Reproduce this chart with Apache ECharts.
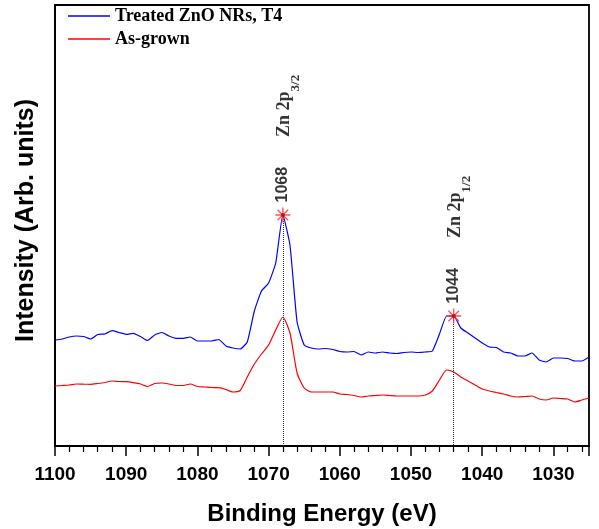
<!DOCTYPE html>
<html>
<head>
<meta charset="utf-8">
<script src="https://cdn.jsdelivr.net/npm/echarts@6/dist/echarts.min.js"></script>
<style>
  html, body { margin: 0; padding: 0; background: #fff; }
  #chart { width: 599px; height: 529px; }
</style>
</head>
<body>
<div id="chart"></div>
<script>
// binding energy, eV (axis runs high -> low)
const energy = [1100, 1099, 1098, 1097, 1096, 1095, 1094, 1093, 1092, 1091,
  1090, 1089, 1088, 1087, 1086, 1085, 1084, 1083, 1082, 1081,
  1080, 1079, 1078, 1077, 1076, 1075, 1074, 1073, 1072, 1071,
  1070, 1069, 1068, 1067, 1066, 1065, 1064, 1063, 1062, 1061,
  1060, 1059, 1058, 1057, 1056, 1055, 1054, 1053, 1052, 1051,
  1050, 1049, 1048, 1047, 1046, 1045, 1044, 1043, 1042, 1041,
  1040, 1039, 1038, 1037, 1036, 1035, 1034, 1033, 1032, 1031,
  1030, 1029, 1028, 1027, 1026, 1025]

// intensity, arb. units
const treatedT4 = [106, 107, 109, 110, 109.5, 107, 111.5, 112, 115.3, 113.5,
  111.7, 112.7, 109.5, 105.5, 111, 113.5, 110, 107.7, 107.7, 109,
  105, 105, 105, 106.5, 100, 98, 97, 104, 135, 155,
  163, 183, 231, 201, 124, 101, 98, 97, 97.5, 96.5,
  94.5, 94, 94.5, 91, 94, 93, 94, 93, 92.5, 93.5,
  94, 93.5, 94, 95, 112, 130, 130, 118, 113, 108,
  103, 99, 98.5, 94, 93, 90, 90, 93, 86, 84,
  88, 88, 87.5, 85, 85, 89]

const asGrown = [60, 60.5, 61, 62, 61.8, 61.7, 62.5, 63.5, 65, 64.5,
  64.3, 63.3, 62, 59.5, 62.5, 63, 62, 60.5, 60.5, 62,
  59.5, 59, 58.5, 58.3, 56.5, 54, 55.5, 69, 82, 92,
  101, 116, 129, 113, 73, 58, 54, 54, 54, 54,
  52, 51.5, 50.5, 49, 50, 50.5, 51, 50.5, 50, 50,
  50, 50, 51, 55, 66, 76, 74, 69, 65, 61,
  57, 55, 53.5, 52, 50, 49, 49.5, 50, 47, 46,
  48, 47.5, 47, 44, 46, 48]

const peakEnergy = [1068, 1044]
const peakName = ['Zn 2p', 'Zn 2p']
const peakSub = ['3/2', '1/2']

const star = 'path://M9.1 0L10.9 0L10.9 20L9.1 20ZM0 9.1L20 9.1L20 10.9L0 10.9Z' +
  'M3.57 2.30L17.70 16.43L16.43 17.70L2.30 3.57ZM17.70 3.57L3.57 17.70L2.30 16.43L16.43 2.30Z'

const peaks = peakEnergy.map(e => [e, treatedT4[energy.indexOf(e)]])
const sans = 'Liberation Sans'
const serif = 'Liberation Serif'

const chart = echarts.init(document.getElementById('chart'))
chart.setOption({
  animation: false,
  grid: { left: 55, right: 10, top: 5, bottom: 83, show: true, borderColor: '#000', borderWidth: 1.8, outerBoundsMode: 'none' },
  legend: {
    orient: 'vertical',
    left: 68,
    top: 7,
    padding: 0,
    icon: 'rect',
    itemWidth: 42,
    itemHeight: 1.5,
    itemGap: 5,
    textStyle: { fontFamily: serif, fontWeight: 'bold', fontSize: 18, color: '#000' },
    data: ['Treated ZnO NRs, T4', 'As-grown']
  },
  xAxis: {
    type: 'value',
    min: 1025,
    max: 1100,
    splitNumber: 8,
    inverse: true,
    name: 'Binding Energy (eV)',
    nameLocation: 'middle',
    nameGap: 56,
    nameTextStyle: { fontFamily: sans, fontWeight: 'bold', fontSize: 24, color: '#000' },
    axisLine: { lineStyle: { color: '#000', width: 1.8 } },
    axisTick: { show: true, length: 10, lineStyle: { color: '#000', width: 1.5 } },
    minorTick: { show: true, splitNumber: 5, length: 6, lineStyle: { color: '#000', width: 1.2 } },
    axisLabel: {
      formatter: v => (v % 10 === 0 ? String(v) : ''),
      margin: 19, fontFamily: sans, fontWeight: 'bold', fontSize: 19, color: '#000'
    },
    splitLine: { show: false }
  },
  yAxis: {
    type: 'value',
    min: 0,
    max: 441,
    name: 'Intensity (Arb. units)',
    nameLocation: 'middle',
    nameGap: 16,
    nameTextStyle: { fontFamily: sans, fontWeight: 'bold', fontSize: 25, color: '#000', padding: [0, 0, 0, 10] },
    axisLine: { show: true, lineStyle: { color: '#000', width: 1.8 } },
    axisTick: { show: false },
    axisLabel: { show: false },
    splitLine: { show: false }
  },
  series: [{
    name: 'Treated ZnO NRs, T4',
    type: 'line',
    data: energy.map((e, i) => [e, treatedT4[i]]),
    symbol: 'none',
    smooth: 0.15,
    lineStyle: { color: '#0000ff', width: 1.2 },
    itemStyle: { color: '#0000ff' },
    markLine: {
      silent: true,
      symbol: 'none',
      label: { show: false },
      lineStyle: { color: '#333', type: 'dotted', width: 1 },
      data: peaks.map(p => [{ coord: p }, { coord: [p[0], 0] }])
    },
    z: 3
  }, {
    name: 'As-grown',
    type: 'line',
    data: energy.map((e, i) => [e, asGrown[i]]),
    symbol: 'none',
    smooth: 0.2,
    lineStyle: { color: '#ff0000', width: 1.2 },
    itemStyle: { color: '#ff0000' },
    z: 3
  }, {
    type: 'scatter',
    data: peaks,
    symbol: star,
    symbolSize: 15,
    itemStyle: { color: '#ff2a2a' },
    label: {
      show: true,
      position: 'top',
      distance: 5,
      rotate: 90,
      align: 'left',
      verticalAlign: 'middle',
      fontFamily: sans,
      fontWeight: 'bold',
      fontSize: 16,
      color: '#000',
      formatter: p => String(p.value[0])
    },
    z: 5
  }, {
    type: 'scatter',
    data: peaks,
    symbol: 'circle',
    symbolSize: 4,
    itemStyle: { color: '#c00000' },
    label: {
      show: true,
      position: 'top',
      distance: 76,
      rotate: 90,
      align: 'left',
      verticalAlign: 'middle',
      offset: [0, 6],
      formatter: p => '{m|' + peakName[p.dataIndex] + '}{s|' + peakSub[p.dataIndex] + '}',
      rich: {
        m: { fontFamily: serif, fontWeight: 'bold', fontSize: 18, color: '#000', padding: [0, 0, 8, 0], verticalAlign: 'bottom' },
        s: { fontFamily: serif, fontWeight: 'bold', fontSize: 13, color: '#000', verticalAlign: 'bottom' }
      }
    },
    z: 6
  }]
})
</script>
</body>
</html>
